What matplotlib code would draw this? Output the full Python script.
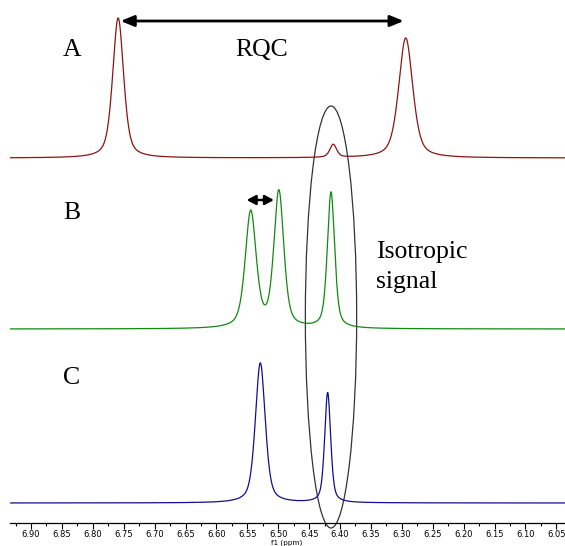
import numpy as np
import matplotlib
matplotlib.use("Agg")
import matplotlib.pyplot as plt
from matplotlib.patches import Ellipse
from matplotlib.ticker import MultipleLocator, FormatStrFormatter

# ---- data ----
# chemical shift axis range (ppm)
x_left, x_right = 6.934, 6.036

# Spectrum A (RQC doublet + small isotropic line)
A_pos = [6.759, 6.2937, 6.411]
A_height = [140, 120, 13]
A_fwhm = [0.021, 0.027, 0.013]
A_offset = 365

# Spectrum B
B_pos = [6.5445, 6.499, 6.4146]
B_height = [116, 136, 136]
B_fwhm = [0.021, 0.019, 0.014]
B_offset = 194

# Spectrum C
C_pos = [6.529, 6.420]
C_height = [140, 110]
C_fwhm = [0.019, 0.0115]
C_offset = 20

labels = ["A", "B", "C"]
tick_values = np.arange(6.05, 6.90 + 1e-9, 0.05)
LORENTZ_FRACTION = 0.5


def spectrum(x, pos, height, fwhm, offset):
    y = np.zeros_like(x) + offset
    for p, h, w in zip(pos, height, fwhm):
        u = (x - p) / (w / 2.0)
        lor = 1.0 / (1.0 + u ** 2)
        gau = np.exp(-np.log(2) * u ** 2)
        y += h * (LORENTZ_FRACTION * lor + (1 - LORENTZ_FRACTION) * gau)
    return y


W, H = 565, 546
fig = plt.figure(figsize=(W / 100, H / 100), dpi=100)
ax = fig.add_axes([10 / W, (H - 523) / H, (565 - 10) / W, 523 / H])

x = np.linspace(x_left, x_right, 4000)
ax.plot(x, spectrum(x, A_pos, A_height, A_fwhm, A_offset), color="#8b1414", lw=0.9)
ax.plot(x, spectrum(x, B_pos, B_height, B_fwhm, B_offset), color="#118a11", lw=0.9)
ax.plot(x, spectrum(x, C_pos, C_height, C_fwhm, C_offset), color="#10108a", lw=0.9)

ax.set_xlim(x_left, x_right)
ax.set_ylim(0, 523)

# ellipse around isotropic signal
ell = Ellipse((6.4146, 206), 0.083, 422, fill=False, edgecolor="#333333",
              lw=0.9, clip_on=False)
ax.add_patch(ell)

# arrows
ax.annotate("", xy=(6.755, 502), xytext=(6.297, 502),
            arrowprops=dict(arrowstyle="<|-|>,head_length=0.8,head_width=0.33",
                            color="black", lw=2, mutation_scale=10,
                            shrinkA=0, shrinkB=0))
ax.annotate("", xy=(6.551, 323), xytext=(6.507, 323),
            arrowprops=dict(arrowstyle="<|-|>,head_length=0.65,head_width=0.35",
                            color="black", lw=1.8, mutation_scale=8,
                            shrinkA=0, shrinkB=0))

# texts
serif = dict(family="Liberation Serif", fontsize=18.5)
def ftxt(px, py, s, **kw):
    fig.text(px / W, 1 - py / H, s, **serif, **kw)

ftxt(72, 50, labels[0], ha="center", va="center")
ftxt(72, 213, labels[1], ha="center", va="center")
ftxt(72, 378, labels[2], ha="center", va="center")
ftxt(262, 50, "RQC", ha="center", va="center")
ftxt(376, 258, "Isotropic", ha="left", va="baseline")
ftxt(376, 288, "signal", ha="left", va="baseline")

# axes styling
for s in ["top", "left", "right"]:
    ax.spines[s].set_visible(False)
ax.spines["bottom"].set_linewidth(0.9)
ax.set_yticks([])
ax.set_xticks(tick_values)
ax.xaxis.set_major_formatter(FormatStrFormatter("%.2f"))
ax.xaxis.set_minor_locator(MultipleLocator(0.025))
ax.tick_params(axis="x", which="major", length=4.5, width=0.8, labelsize=6, pad=0.8)
ax.tick_params(axis="x", which="minor", length=2.5, width=0.8)
fig.text(287 / W, 0.3 / H, "f1 (ppm)", fontsize=5.2, ha="center", va="bottom")

fig.savefig("out.png", dpi=100)
